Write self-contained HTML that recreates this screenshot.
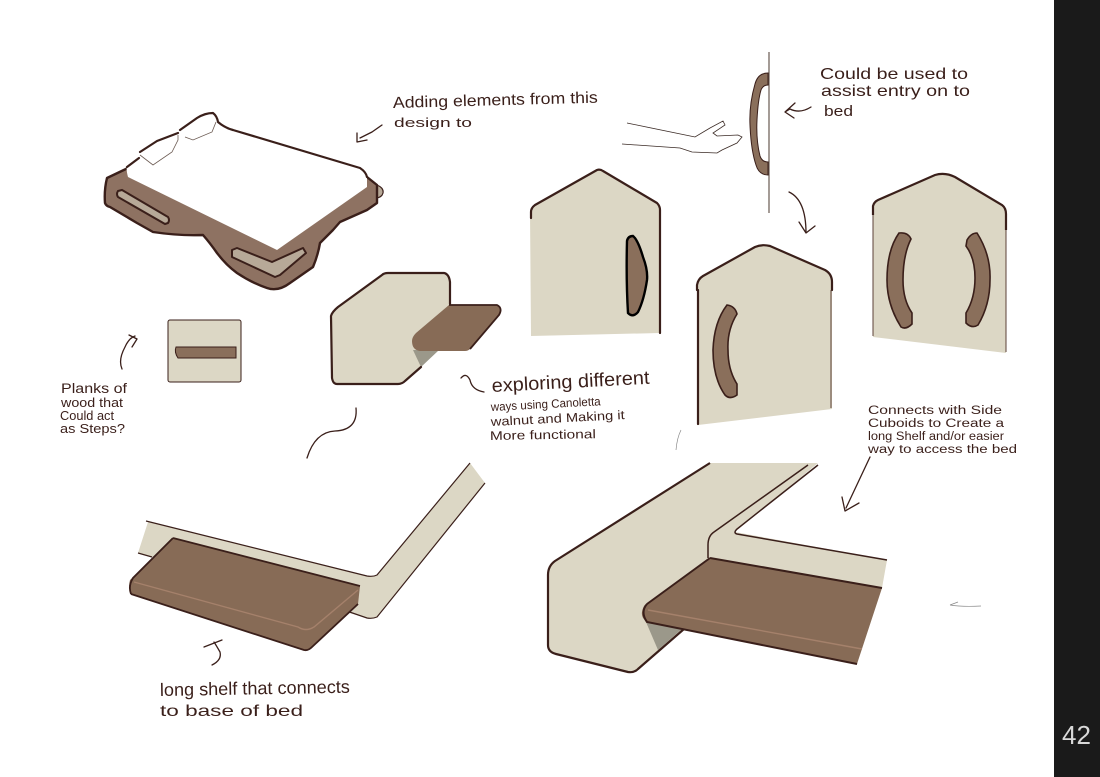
<!DOCTYPE html>
<html><head><meta charset="utf-8"><style>
html,body{margin:0;padding:0;background:#fff}
svg{display:block}
text{font-family:"Liberation Sans",sans-serif;fill:#3a1f1a}
.l{fill:none;stroke:#3a1f1a;stroke-width:1.3;stroke-linecap:round;stroke-linejoin:round}
.o{fill:none;stroke:#3a1f1a;stroke-width:2.2;stroke-linecap:round;stroke-linejoin:round}
.t{fill:none;stroke:#5b4238;stroke-width:1}
</style></head><body>
<svg width="1100" height="777" viewBox="0 0 1100 777" xmlns="http://www.w3.org/2000/svg">
<rect width="1100" height="777" fill="#fff"/>
<rect x="1054" y="0" width="46" height="777" fill="#1a1a1a"/>
<text x="1062" y="744" font-size="26" style="fill:#d8d8d8">42</text>

<!-- bed -->
<path d="M377 185Q384 188 383 193Q382 197 377 198Z" fill="#b7a998" stroke="#3a1f1a" stroke-width="1.2"/>
<path d="M107 178Q104 190 105 203Q106 206 110 207L137 223L153 232Q180 236 203 235Q210 243 217 253Q226 265 237 273Q252 283 267 288Q278 292 290 283L313 267Q318 255 320 243L333 230L340 222L367 210L377 203V185L367 177L128 168Z" fill="#8e7262" stroke="#3a1f1a" stroke-width="2.4" stroke-linejoin="round"/>
<path d="M128 177Q126 170 127 166L140 156L140 152L157 140L178 133L180 130L197 117L213 113Q217 116 218 122Q225 128 233 130L360 168Q367 172 367 177V187L277 250Z" fill="#fff"/>
<path class="o" d="M127 167L139 158M140 152L157 141L178 133M180 130L197 118Q205 113 213 113Q217 116 218 122Q225 128 233 130L360 168Q366 172 367 177"/>
<path d="M178 135V140L172 152L153 165L140 155M185 137L193 140L212 132L216 122" fill="none" stroke="#6b5a52" stroke-width=".8"/>
<path d="M118 191L122 190L168 217Q170 220 168 223L165 224L118 197Q116 194 118 191Z" fill="#b7a998" stroke="#3a1f1a" stroke-width="2"/>
<path d="M232 250L237 248L272 262L303 248L306 253L280 275L275 277L232 257Z" fill="#b7a998" stroke="#3a1f1a" stroke-width="2" stroke-linejoin="round"/>

<!-- square plank -->
<rect x="168" y="320" width="73" height="62" rx="2" fill="#dcd7c5" stroke="#3a1f1a" stroke-width="1"/>
<path d="M176 347H236V358H178Q174 352 176 347Z" fill="#8a6f5b" stroke="#3a1f1a" stroke-width="1"/>

<!-- mid piece -->
<path d="M331 316Q332 312 338 307L382 275Q384 273 388 273H445Q450 276 450 282V320L439 350L405 381Q402 384 398 384H337Q332 384 332 378Z" fill="#dcd7c5"/>
<path d="M413 350H439L421 367Z" fill="#9b988a"/>
<path class="o" d="M450 304V282Q449 274 444 273H388Q384 273 382 275L338 307Q332 312 331 316L332 378Q333 384 337 384H398Q402 384 405 381L421 367"/>
<path d="M449 305H497Q503 308 499 315L470 349Q468 351 465 351H420Q412 350 412 341Q412 337 416 333Z" fill="#876b56"/>
<path d="M449 305H497Q503 308 499 315L470 349" fill="none" stroke="#3a1f1a" stroke-width="1.8"/>

<!-- house 1 -->
<path d="M530 212Q531 208 535 205L597 170Q600 169 603 171L657 203Q660 206 660 210V333L531 336Z" fill="#dcd7c5"/>
<path class="o" d="M531 218V212Q531 208 535 205L597 170Q600 169 603 171L657 203Q660 206 660 210V333"/>
<path d="M627 241Q628 236 633 236Q638 240 643 257Q648 270 647 280Q644 300 638 312Q633 318 628 313Q626 280 627 241Z" fill="#8a6f5b" stroke="#000" stroke-width="2.4"/>

<!-- house 2 -->
<path d="M697 285Q698 279 703 276L755 247Q762 244 770 246L825 270Q832 274 832 282V409L698 425Z" fill="#dcd7c5"/>
<path class="o" d="M697 290V285Q698 279 703 276L755 247Q762 244 770 246L825 270Q832 274 832 282V290M698 290V424"/>
<path class="t" d="M831 290V408"/>
<path d="M727 305Q735 306 737 314Q727 330 728 350Q728 370 737 384V395Q730 400 725 395Q713 378 713 350Q714 322 727 305Z" fill="#8a6f5b" stroke="#3a1f1a" stroke-width="1.6"/>

<!-- house 3 -->
<path d="M873 206Q874 202 878 200L935 175Q945 172 955 177L1002 205Q1006 208 1006 214V353L873 337Z" fill="#dcd7c5"/>
<path d="M873 215V206Q874 202 878 200L935 175Q945 172 955 177L1002 205Q1006 208 1006 214V230" fill="none" stroke="#3a1f1a" stroke-width="2.2"/>
<path class="t" d="M873 215V336M1006 230V352"/>
<path d="M899 233Q908 232 911 239Q903 255 903 280Q903 300 912 313V324Q906 330 901 327Q887 305 887 280Q887 250 899 233Z" fill="#8a6f5b" stroke="#3a1f1a" stroke-width="1.6"/>
<path d="M967 240Q971 233 977 233Q991 255 990 280Q990 305 978 325Q972 329 966 323V313Q975 298 975 278Q975 258 966 246Z" fill="#8a6f5b" stroke="#3a1f1a" stroke-width="1.6"/>

<!-- side handle -->
<path d="M768 73Q758 73 755 84Q749 105 750 125Q751 150 756 165Q759 175 768 175V162Q762 162 760 156Q756 140 757 120Q758 100 761 90Q763 85 768 85Z" fill="#8a6f5b" stroke="#3a1f1a" stroke-width="1"/>
<line x1="769" y1="52" x2="769" y2="213" stroke="#5b4a42" stroke-width="1.1"/>

<!-- hand -->
<path d="M627 123L695 137L710 128L723 121L725 125L713 133L717 136L738 135L742 137L737 143L722 150L717 153L692 152L680 148L622 144" fill="none" stroke="#3a2a25" stroke-width=".8"/>

<!-- lower left -->
<path d="M148 522L367 576Q373 577 377 575L470 463L485 483L377 617Q372 619 367 618L138 553Z" fill="#dcd7c5"/>
<path d="M146 521L367 576Q373 577 377 575L470 463M485 483L377 617Q372 619 367 618L335 607M138 553L152 557" fill="none" stroke="#3a1f1a" stroke-width="1.2"/>
<path d="M173 538L360 586L358 604L311 648Q307 652 302 650L131 594Q128 587 130 580Z" fill="#876b56"/>
<path d="M131 594L304 650Q308 651 312 647L358 604M173 538L360 586M173 538L133 578Q128 586 131 594" fill="none" stroke="#3a1f1a" stroke-width="1.8"/>
<path d="M134 582L298 627Q306 632 314 627L358 590" fill="none" stroke="#a5816b" stroke-width="1.4"/>

<!-- lower right -->
<path d="M710 463H818L735 532L887 560L882 588L857 650L690 625L637 670Q634 673 628 672L556 654Q548 652 548 645V575Q548 566 555 561Z" fill="#dcd7c5"/>
<path d="M646 622L683 628L658 650Z" fill="#9b988a"/>
<path d="M710 463L555 561Q548 566 548 575V645Q548 652 556 654L628 672Q634 673 638 669L684 629" fill="none" stroke="#3a1f1a" stroke-width="2.2" stroke-linejoin="round"/>
<path d="M708 558V545Q708 536 714 532L808 465M818 465L737 529Q733 533 737 534L887 560" fill="none" stroke="#3a1f1a" stroke-width="1.5"/>
<path d="M710 558L882 588L857 664L647 622Q641 618 642 612Q643 606 646 604Z" fill="#876b56"/>
<path d="M710 558L882 588M647 604L710 558M647 604Q640 612 647 622L857 664" fill="none" stroke="#3a1f1a" stroke-width="2"/>
<path d="M648 610L862 649" fill="none" stroke="#a5816b" stroke-width="1.4"/>

<!-- connectors -->
<path class="l" d="M382 125L372 132L360 138M357 133L357 142L367 140"/>
<path class="l" d="M811 107Q800 114 790 109L785 112M795 103L785 112L794 118"/>
<path class="l" d="M789 192Q806 200 806 233M799 222L806 233L815 226"/>
<path class="l" d="M122 369Q118 360 125 347Q129 338 135 336M129 335L137 339L132 347"/>
<path class="l" d="M307 458Q315 432 335 431Q358 430 356 408"/>
<path class="l" d="M461 378Q466 372 470 380Q472 390 484 392"/>
<path class="l" d="M212 665Q222 660 220 652Q216 645 214 642M204 647L222 640"/>
<path class="l" d="M870 457L846 508M842 497L845 511L859 503"/>
<path d="M681 430Q677 438 676 450" fill="none" stroke="#888" stroke-width=".7"/>
<path d="M950 605Q962 607 981 606M950 605L958 602" fill="none" stroke="#888" stroke-width=".7"/>

<!-- labels -->
<g style="font-weight:400">
<text x="393" y="108" font-size="16" textLength="205" lengthAdjust="spacingAndGlyphs" transform="rotate(-1.5 393 108)">Adding elements from this</text>
<text x="394" y="127" font-size="13" textLength="78" lengthAdjust="spacingAndGlyphs">design  to</text>
<text x="820" y="79" font-size="16" textLength="148" lengthAdjust="spacingAndGlyphs">Could  be  used  to</text>
<text x="821" y="96" font-size="16" textLength="149" lengthAdjust="spacingAndGlyphs">assist  entry  on to</text>
<text x="824" y="116" font-size="15" textLength="29" lengthAdjust="spacingAndGlyphs">bed</text>
<text x="61" y="393" font-size="13.5" textLength="66" lengthAdjust="spacingAndGlyphs">Planks  of</text>
<text x="61" y="407" font-size="13" textLength="62" lengthAdjust="spacingAndGlyphs">wood  that</text>
<text x="60" y="420" font-size="12.5" textLength="54" lengthAdjust="spacingAndGlyphs">Could  act</text>
<text x="60" y="433" font-size="13" textLength="65" lengthAdjust="spacingAndGlyphs">as  Steps?</text>
<text x="492" y="392" font-size="19" textLength="158" lengthAdjust="spacingAndGlyphs" transform="rotate(-3 492 392)">exploring  different</text>
<text x="491" y="411" font-size="12" textLength="110" lengthAdjust="spacingAndGlyphs" transform="rotate(-3 491 411)">ways  using  Canoletta</text>
<text x="491" y="426" font-size="12.5" textLength="134" lengthAdjust="spacingAndGlyphs" transform="rotate(-3 491 426)">walnut  and  Making  it</text>
<text x="490" y="440" font-size="12.5" textLength="106" lengthAdjust="spacingAndGlyphs" transform="rotate(-1 490 440)">More  functional</text>
<text x="868" y="414" font-size="11.5" textLength="134" lengthAdjust="spacingAndGlyphs">Connects   with   Side</text>
<text x="868" y="427" font-size="11.5" textLength="136" lengthAdjust="spacingAndGlyphs">Cuboids   to  Create  a</text>
<text x="868" y="440" font-size="11.5" textLength="136" lengthAdjust="spacingAndGlyphs">long  Shelf  and/or  easier</text>
<text x="868" y="453" font-size="11.5" textLength="149" lengthAdjust="spacingAndGlyphs">way  to  access  the  bed</text>
<text x="160" y="696" font-size="18" textLength="190" lengthAdjust="spacingAndGlyphs" transform="rotate(-1 160 696)">long  shelf  that  connects</text>
<text x="160" y="716" font-size="16" textLength="143" lengthAdjust="spacingAndGlyphs">to   base  of  bed</text>
</g>
</svg>
</body></html>
